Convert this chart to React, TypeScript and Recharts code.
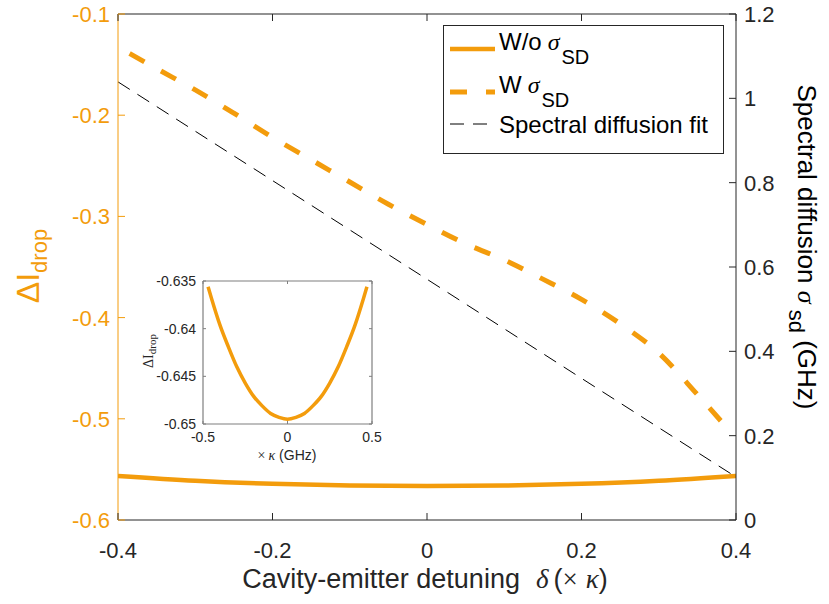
import React from 'react';
import { LineChart, Line, XAxis, YAxis, Label, ReferenceLine } from 'recharts';

const ORANGE = '#F39C0C';
const INK = '#262626';
const GREY = '#7f7f7f';
const SANS = '"Liberation Sans", Arial, Helvetica, sans-serif';
const SERIF = '"Liberation Serif", "DejaVu Serif", serif';

// cavity-emitter detuning (x kappa) and Delta I_drop, without spectral diffusion
const woX = [-0.4, -0.3, -0.2, -0.1, 0, 0.1, 0.2, 0.3, 0.4];
const woDrop = [-0.5565, -0.5612, -0.5643, -0.566, -0.5665, -0.566, -0.5643, -0.5612, -0.5565];

// with spectral diffusion
const wX = [-0.385, -0.35, -0.3, -0.25, -0.2, -0.15, -0.1, -0.05, 0, 0.05, 0.1, 0.15, 0.2, 0.25, 0.3, 0.35, 0.385];
const wDrop = [-0.139, -0.154, -0.175, -0.198, -0.222, -0.244, -0.266, -0.288, -0.308, -0.327, -0.343, -0.362, -0.382, -0.406, -0.435, -0.476, -0.506];

// spectral diffusion fit (GHz), right axis
const fitX = [-0.4, -0.2, 0, 0.2, 0.4];
const fitSigma = [1.039, 0.805, 0.571, 0.336, 0.102];

// inset
const insetX = [-0.47, -0.45, -0.4, -0.35, -0.3, -0.25, -0.2, -0.15, -0.1, -0.05, 0, 0.05, 0.1, 0.15, 0.2, 0.25, 0.3, 0.35, 0.4, 0.45, 0.47];
const insetDrop = [-0.6356, -0.6368, -0.6396, -0.6419, -0.644, -0.6457, -0.6471, -0.6481, -0.6489, -0.6493, -0.6495, -0.6493, -0.6489, -0.6481, -0.6471, -0.6457, -0.644, -0.6419, -0.6396, -0.6368, -0.6356];

const xTicks = [-0.4, -0.2, 0, 0.2, 0.4];
const leftTicks = [-0.6, -0.5, -0.4, -0.3, -0.2, -0.1];
const rightTicks = [0, 0.2, 0.4, 0.6, 0.8, 1, 1.2];
const insetXTicks = [-0.5, 0, 0.5];
const insetYTicks = [-0.65, -0.645, -0.64, -0.635];

const zip = (xs: number[], ys: number[]) => xs.map((x, i) => ({ x, y: ys[i] }));
const woData = zip(woX, woDrop);
const wData = zip(wX, wDrop);
const fitData = zip(fitX, fitSigma);
const insetData = zip(insetX, insetDrop);

// main plot box
const L = 118, T = 14, R = 736, B = 520;
// inset chart size and plot box (relative to inset chart)
const IW = 262, IH = 214;
const IL = 63, IT = 21, IR = 232, IB = 164;

const fmt = (v: number) => String(v);
const TICK_FONT = 22;

// bottom ticks also carry the matching inward ticks on the top border
function BottomTick(p: any) {
  return (
    <g>
      <line x1={p.x} x2={p.x} y1={B} y2={B - 7} stroke={INK} />
      <line x1={p.x} x2={p.x} y1={T} y2={T + 7} stroke={INK} />
      <text x={p.x} y={558} textAnchor="middle" fontSize={TICK_FONT} fontFamily={SANS} fill={INK}>
        {fmt(p.payload.value)}
      </text>
    </g>
  );
}

function LeftTick(p: any) {
  return (
    <g>
      <line x1={L} x2={L + 7} y1={p.y} y2={p.y} stroke={ORANGE} />
      <text x={110} y={p.y} dy="0.36em" textAnchor="end" fontSize={TICK_FONT} fontFamily={SANS} fill={ORANGE}>
        {fmt(p.payload.value)}
      </text>
    </g>
  );
}

function RightTick(p: any) {
  return (
    <g>
      <line x1={R} x2={R - 7} y1={p.y} y2={p.y} stroke={INK} />
      <text x={744} y={p.y} dy="0.36em" textAnchor="start" fontSize={TICK_FONT} fontFamily={SANS} fill={INK}>
        {fmt(p.payload.value)}
      </text>
    </g>
  );
}

function InsetBottomTick(p: any) {
  return (
    <g>
      <line x1={p.x} x2={p.x} y1={IB} y2={IB - 3} stroke={GREY} />
      <line x1={p.x} x2={p.x} y1={IT} y2={IT + 3} stroke={GREY} />
      <text x={p.x} y={IB + 18} textAnchor="middle" fontSize={14} fontFamily={SANS} fill={INK}>
        {fmt(p.payload.value)}
      </text>
    </g>
  );
}

function InsetLeftTick(p: any) {
  return (
    <g>
      <line x1={IL} x2={IL + 3} y1={p.y} y2={p.y} stroke={GREY} />
      <line x1={IR} x2={IR - 3} y1={p.y} y2={p.y} stroke={GREY} />
      <text x={IL - 7} y={p.y} dy="0.36em" textAnchor="end" fontSize={14} fontFamily={SANS} fill={INK}>
        {fmt(p.payload.value)}
      </text>
    </g>
  );
}

function Legend() {
  const rows = [
    { y: 24, dash: undefined, w: 4.5, color: ORANGE, label: 'W/o', sub: true },
    { y: 67, dash: '17 19', w: 5, color: ORANGE, label: 'W', sub: true },
    { y: 99, dash: '14 9', w: 1, color: '#000', label: 'Spectral diffusion fit', sub: false },
  ];
  return (
    <svg width={282} height={130} style={{ position: 'absolute', left: 443, top: 25 }}>
      <rect x={0.5} y={0.5} width={280} height={128} fill="#fff" stroke={INK} />
      {rows.map((r) => (
        <g key={r.label}>
          <line x1={7} x2={52} y1={r.y} y2={r.y} stroke={r.color} strokeWidth={r.w} strokeDasharray={r.dash} />
          {r.sub ? (
            <text x={56} y={r.y + 1} fontSize={24} fontFamily={SANS} fill="#000">
              {r.label}
              <tspan dx={6} fontFamily={SERIF} fontStyle="italic">σ</tspan>
              <tspan fontSize={20} dx={2} dy={14}>SD</tspan>
            </text>
          ) : (
            <text x={56} y={r.y + 9} fontSize={24} fontFamily={SANS} fill="#000">
              {r.label}
            </text>
          )}
        </g>
      ))}
    </svg>
  );
}

function Inset() {
  return (
    <div style={{ position: 'absolute', left: 140, top: 260 }}>
      <LineChart width={IW} height={IH} data={insetData} margin={{ top: IT, right: IW - IR, bottom: 0, left: 0 }}>
        <XAxis xAxisId="b" type="number" dataKey="x" domain={[-0.5, 0.5]} ticks={insetXTicks} interval={0}
          height={IH - IB} stroke={GREY} strokeWidth={1.2} tickLine={false} tick={InsetBottomTick}>
          <Label content={() => (
            <text x={147} y={IB + 36} textAnchor="middle" fontSize={14} fill={INK}>
              <tspan fontFamily={SERIF}>×</tspan>
              <tspan dx={3} fontFamily={SERIF} fontStyle="italic">κ</tspan>
              <tspan fontFamily={SANS}> (GHz)</tspan>
            </text>
          )} />
        </XAxis>
        <YAxis yAxisId="l" type="number" domain={[-0.65, -0.635]} ticks={insetYTicks} interval={0} width={IL}
          stroke={GREY} strokeWidth={1.2} tickLine={false} tick={InsetLeftTick}>
          <Label content={() => (
            <text x={13} y={91} transform="rotate(-90, 13, 91)" textAnchor="middle" fontSize={14} fontFamily={SERIF} fill={INK}>
              ΔI<tspan fontSize={11} dy={3}>drop</tspan>
            </text>
          )} />
        </YAxis>
        <ReferenceLine xAxisId="b" yAxisId="l" y={-0.635} stroke={GREY} strokeWidth={1.2} />
        <ReferenceLine xAxisId="b" yAxisId="l" x={0.5} stroke={GREY} strokeWidth={1.2} />
        <Line xAxisId="b" yAxisId="l" type="monotone" dataKey="y" stroke={ORANGE} strokeWidth={3.5} dot={false}
          isAnimationActive={false} />
      </LineChart>
    </div>
  );
}

export default function App() {
  return (
    <div style={{ position: 'absolute', left: 0, top: 0, width: 829, height: 604, background: '#fff' }}>
      <LineChart width={829} height={604} margin={{ top: T, right: 0, bottom: 0, left: 0 }}>
        <XAxis xAxisId="b" type="number" dataKey="x" domain={[-0.4, 0.4]} ticks={xTicks} interval={0}
          height={604 - B} stroke={INK} tickLine={false} tick={BottomTick} allowDataOverflow>
          <Label content={() => (
            <text x={425} y={588} textAnchor="middle" fontSize={27} fontFamily={SANS} fill={INK}>
              Cavity-emitter detuning
              <tspan dx={16} fontFamily={SERIF} fontStyle="italic">δ</tspan>
              <tspan dx={5}>(</tspan>
              <tspan fontFamily={SERIF}>×</tspan>
              <tspan dx={8} fontFamily={SERIF} fontStyle="italic">κ</tspan>
              <tspan>)</tspan>
            </text>
          )} />
        </XAxis>
        <YAxis yAxisId="l" type="number" domain={[-0.6, -0.1]} ticks={leftTicks} interval={0} width={L}
          stroke={ORANGE} tickLine={false} tick={LeftTick}>
          <Label content={() => (
            <text x={39} y={266} transform="rotate(-90, 39, 266)" textAnchor="middle" fontSize={32} fontFamily={SANS} fill={ORANGE}>
              ΔI<tspan fontSize={22} dy={8}>drop</tspan>
            </text>
          )} />
        </YAxis>
        <YAxis yAxisId="r" orientation="right" type="number" domain={[0, 1.2]} ticks={rightTicks} interval={0}
          width={829 - R} stroke={INK} tickLine={false} tick={RightTick}>
          <Label content={() => (
            <text x={798} y={247} transform="rotate(90, 798, 247)" textAnchor="middle" fontSize={26} fontFamily={SANS} fill="#000">
              Spectral diffusion{'  '}
              <tspan fontFamily={SERIF} fontStyle="italic">σ</tspan>
              <tspan fontSize={22} dy={9}> sd</tspan>
              <tspan dy={-9}>  (GHz)</tspan>
            </text>
          )} />
        </YAxis>
        <ReferenceLine xAxisId="b" yAxisId="l" y={-0.1} stroke={INK} strokeWidth={1.2} />
        <Line xAxisId="b" yAxisId="l" type="monotone" data={woData} dataKey="y" stroke={ORANGE} strokeWidth={4.5}
          dot={false} isAnimationActive={false} />
        <Line xAxisId="b" yAxisId="l" type="monotone" data={wData} dataKey="y" stroke={ORANGE} strokeWidth={5}
          strokeDasharray="17 19" dot={false} isAnimationActive={false} />
        <Line xAxisId="b" yAxisId="r" data={fitData} dataKey="y" stroke="#000" strokeWidth={1}
          strokeDasharray="14 9" dot={false} isAnimationActive={false} />
      </LineChart>
      <Inset />
      <Legend />
    </div>
  );
}
